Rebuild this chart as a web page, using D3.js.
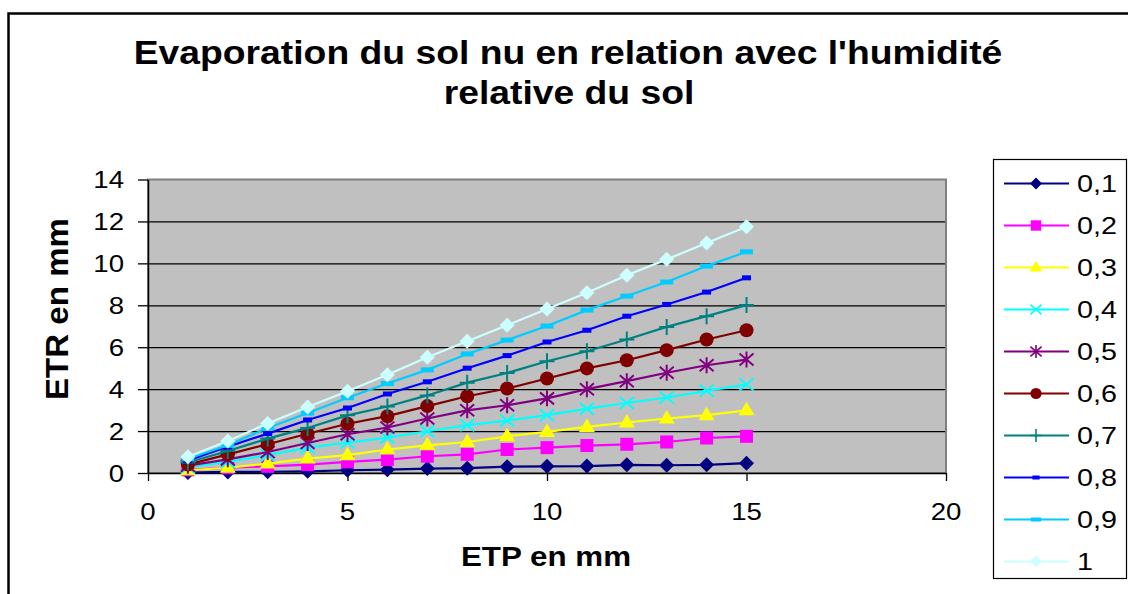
<!DOCTYPE html>
<html>
<head>
<meta charset="utf-8">
<script src="https://cdn.jsdelivr.net/npm/d3@7"></script>
<style>
  body { margin: 0; background: #fff; }
  svg { display: block; font-family: Arial, "Liberation Sans", sans-serif; }
</style>
</head>
<body>
<svg id="grafico"></svg>
<script>
// ETP en mm (axe X)
const etp = [1, 2, 3, 4, 5, 6, 7, 8, 9, 10, 11, 12, 13, 14, 15];

// humidité relative du sol (noms des séries)
const humidites = ['0,1', '0,2', '0,3', '0,4', '0,5', '0,6', '0,7', '0,8', '0,9', '1'];

// ETR en mm, une liste par série
const etr01 = [0.02, 0.05, 0.06, 0.08, 0.13, 0.16, 0.21, 0.23, 0.30, 0.32, 0.33, 0.39, 0.37, 0.39, 0.47];
const etr02 = [0.15, 0.25, 0.32, 0.40, 0.53, 0.64, 0.80, 0.89, 1.12, 1.21, 1.31, 1.37, 1.48, 1.67, 1.75];
const etr03 = [0.13, 0.25, 0.45, 0.69, 0.85, 1.12, 1.32, 1.48, 1.75, 1.96, 2.20, 2.41, 2.60, 2.76, 2.99];
const etr04 = [0.28, 0.53, 0.85, 1.21, 1.45, 1.69, 1.99, 2.28, 2.50, 2.76, 3.07, 3.34, 3.60, 3.92, 4.22];
const etr05 = [0.35, 0.65, 1.00, 1.43, 1.85, 2.17, 2.60, 2.99, 3.23, 3.56, 4.00, 4.38, 4.78, 5.14, 5.41];
const etr06 = [0.40, 0.89, 1.37, 1.87, 2.35, 2.71, 3.19, 3.66, 4.03, 4.51, 4.99, 5.38, 5.86, 6.37, 6.81];
const etr07 = [0.50, 1.05, 1.64, 2.15, 2.75, 3.17, 3.70, 4.31, 4.77, 5.33, 5.81, 6.37, 6.97, 7.48, 8.01];
const etr08 = [0.60, 1.25, 1.88, 2.53, 3.10, 3.77, 4.35, 5.00, 5.60, 6.25, 6.81, 7.48, 8.04, 8.63, 9.31];
const etr09 = [0.68, 1.32, 2.15, 2.86, 3.59, 4.27, 4.92, 5.68, 6.34, 7.01, 7.77, 8.44, 9.11, 9.87, 10.55];
const etr10 = [0.77, 1.53, 2.36, 3.15, 3.90, 4.69, 5.52, 6.28, 7.05, 7.82, 8.60, 9.43, 10.19, 10.97, 11.75];

const seriesEtr = [etr01, etr02, etr03, etr04, etr05, etr06, etr07, etr08, etr09, etr10];

const ticksX = [0, 5, 10, 15, 20];
const ticksY = [0, 2, 4, 6, 8, 10, 12, 14];

const couleurs = ['#000080', '#FF00FF', '#FFFF00', '#00FFFF', '#800080',
                  '#800000', '#008080', '#0000FF', '#00CCFF', '#CCFFFF'];
const marqueurs = ['losange', 'carre', 'triangle', 'croix', 'etoile',
                   'rond', 'plus', 'tiret', 'tiretLarge', 'losange'];

let largeur = 1128, hauteur = 594;
let svg = d3.select('#grafico').attr('width', largeur).attr('height', hauteur);

// le graphique d'origine est un peu étiré en largeur : texte élargi
function texteEtire(parent, x, y, etirement, taille, gras, ancre, contenu) {
    let g = parent.append('g')
        .attr('transform', 'translate(' + x + ',' + y + ') scale(' + etirement + ',1)');
    return g.append('text')
        .attr('text-anchor', ancre)
        .style('font-size', taille + 'px')
        .style('font-weight', gras ? 'bold' : 'normal')
        .attr('fill', '#000')
        .text(contenu);
}

// cadre extérieur
svg.append('rect')
    .attr('x', 8.5).attr('y', 13.5)
    .attr('width', 1130).attr('height', 600)
    .attr('fill', '#fff')
    .attr('stroke', '#000').attr('stroke-width', 2.5);

// titre
texteEtire(svg, 568, 64, 1.13, 33, true, 'middle', "Evaporation du sol nu en relation avec l'humidité");
texteEtire(svg, 569, 104, 1.13, 33, true, 'middle', 'relative du sol');

let zone = { gauche: 148, droite: 946, haut: 179.5, bas: 473 };

let fnX = d3.scaleLinear().domain([0, 20]).range([zone.gauche, zone.droite]);
let fnY = d3.scaleLinear().domain([0, 14]).range([zone.bas, zone.haut]);

// fond gris de la zone de tracé
svg.append('rect')
    .attr('x', zone.gauche).attr('y', zone.haut)
    .attr('width', zone.droite - zone.gauche)
    .attr('height', zone.bas - zone.haut)
    .attr('fill', '#C0C0C0')
    .attr('stroke', '#808080').attr('stroke-width', 2);

// grille horizontale
svg.append('g')
    .attr('transform', 'translate(' + zone.gauche + ',0)')
    .call(d3.axisRight(fnY).tickValues(ticksY.slice(1, -1))
        .tickSize(zone.droite - zone.gauche - 1).tickFormat(''))
    .call(g => g.select('.domain').remove())
    .call(g => g.selectAll('line').attr('stroke', '#000').attr('stroke-width', 1.3));

// axes (graduations seulement, les libellés sont dessinés à part)
let axeY = svg.append('g')
    .attr('transform', 'translate(' + zone.gauche + ',0)')
    .call(d3.axisLeft(fnY).tickValues(ticksY).tickSize(10).tickSizeOuter(0).tickFormat(''));

let axeX = svg.append('g')
    .attr('transform', 'translate(0,' + zone.bas + ')')
    .call(d3.axisBottom(fnX).tickValues(ticksX).tickSize(8).tickSizeOuter(0).tickFormat(''));

[axeX, axeY].forEach(a => {
    a.select('.domain').attr('stroke', '#000').attr('stroke-width', 1.5);
    a.selectAll('.tick line').attr('stroke', '#000').attr('stroke-width', 1.3);
});

let libelles = svg.append('g');
ticksY.forEach(v => {
    texteEtire(libelles, 124, fnY(v), 1.15, 24, false, 'end', v).attr('dy', '0.36em');
});
ticksX.forEach(v => {
    texteEtire(libelles, fnX(v), 520, 1.15, 24, false, 'middle', v);
});

// titres des axes
texteEtire(svg, 546, 566, 1.12, 28, true, 'middle', 'ETP en mm');

svg.append('text')
    .attr('transform', 'translate(68,309) rotate(-90)')
    .attr('text-anchor', 'middle')
    .attr('textLength', 182).attr('lengthAdjust', 'spacingAndGlyphs')
    .style('font-weight', 'bold').style('font-size', '31px')
    .text('ETR en mm');

// dessin des marqueurs (k = facteur de taille)
function dessineMarqueur(g, type, couleur, k) {
    g = g.append('g').attr('transform', 'scale(' + k + ')');
    if (type === 'losange') {
        g.append('path').attr('d', 'M0,-7.5L7.5,0L0,7.5L-7.5,0Z').attr('fill', couleur);
    } else if (type === 'carre') {
        g.append('rect').attr('x', -6.5).attr('y', -6.5).attr('width', 13).attr('height', 13).attr('fill', couleur);
    } else if (type === 'triangle') {
        g.append('path').attr('d', 'M0,-8.5L8,5L-8,5Z').attr('fill', couleur);
    } else if (type === 'croix') {
        g.append('path').attr('d', 'M-7,-6L7,6M-7,6L7,-6').attr('stroke', couleur).attr('stroke-width', 2);
    } else if (type === 'etoile') {
        g.append('path').attr('d', 'M-7,-6L7,6M-7,6L7,-6M0,-8L0,8').attr('stroke', couleur).attr('stroke-width', 2);
    } else if (type === 'rond') {
        g.append('circle').attr('r', 7).attr('fill', couleur);
    } else if (type === 'plus') {
        g.append('path').attr('d', 'M-7.5,0L7.5,0M0,-8L0,8').attr('stroke', couleur).attr('stroke-width', 2);
    } else if (type === 'tiret') {
        g.append('rect').attr('x', -4.5).attr('y', -2.5).attr('width', 9).attr('height', 5).attr('fill', couleur);
    } else if (type === 'tiretLarge') {
        g.append('rect').attr('x', -6.5).attr('y', -2.5).attr('width', 13).attr('height', 5).attr('fill', couleur);
    }
}

let ligne = d3.line().x(d => fnX(d.x)).y(d => fnY(d.y));

let series = humidites.map((h, i) => ({
    nom: h,
    couleur: couleurs[i],
    marqueur: marqueurs[i],
    points: etp.map((x, j) => ({ x: x, y: seriesEtr[i][j] }))
}));

let traces = svg.append('g');
series.forEach(s => {
    traces.append('path')
        .datum(s.points)
        .attr('d', ligne)
        .attr('fill', 'none')
        .attr('stroke', s.couleur)
        .attr('stroke-width', 2.2);
    s.points.forEach(p => {
        let g = traces.append('g').attr('transform', 'translate(' + fnX(p.x) + ',' + fnY(p.y) + ')');
        dessineMarqueur(g, s.marqueur, s.couleur, 1);
    });
});

// légende
svg.append('rect')
    .attr('x', 993.5).attr('y', 159.5)
    .attr('width', 133).attr('height', 419)
    .attr('fill', '#fff').attr('stroke', '#000').attr('stroke-width', 1.2);

series.forEach((s, i) => {
    let y = 183.5 + i * 42;
    svg.append('line')
        .attr('x1', 1004).attr('x2', 1069)
        .attr('y1', y).attr('y2', y)
        .attr('stroke', s.couleur).attr('stroke-width', 2);
    let g = svg.append('g').attr('transform', 'translate(1036,' + y + ')');
    dessineMarqueur(g, s.marqueur, s.couleur, 0.8);
    texteEtire(svg, 1077, y, 1.25, 23, false, 'start', s.nom).attr('dy', '0.36em');
});
</script>
</body>
</html>
